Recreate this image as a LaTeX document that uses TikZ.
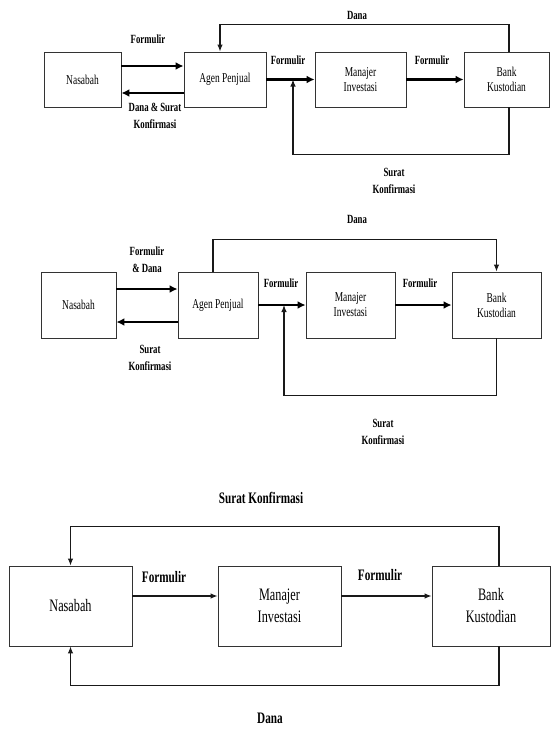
\documentclass[tikz,border=0pt]{standalone}
\usepackage{fontspec}
\setmainfont{Liberation Serif}[FakeStretch=0.7]
\usetikzlibrary{positioning,arrows.meta}

\begin{document}
\begin{tikzpicture}[
    x=1pt, y=-1pt,
    box/.style={
        rectangle,
        draw=black!80,
        line width=0.9pt,
        inner sep=2pt,
        align=center,
        font=\fontsize{13.5}{15}\selectfont
    },
    bigbox/.style={
        box,
        font=\fontsize{17.5}{22}\selectfont
    },
    lbl/.style={
        align=center,
        inner sep=0pt,
        font=\fontsize{12.5}{17}\selectfont\bfseries
    },
    biglbl/.style={
        lbl,
        font=\fontsize{16}{19}\selectfont\bfseries
    },
    heavy/.style={
        -{Latex[length=8pt,width=8pt]},
        line width=2.6pt,
        draw=black
    },
    flow/.style={
        -{Latex[length=7pt,width=5.5pt]},
        line width=1.1pt,
        draw=black!90
    }
]

% Page size
\useasboundingbox (0,0) rectangle (551,729);

% ---------------- Diagram 1 ----------------
\node[box, minimum width=77pt, minimum height=55pt] (nas1) at (82.5,79.5) {Nasabah};
\node[box, minimum width=82pt, minimum height=55pt] (agen1) at (225,79.5) {Agen Penjual};
\node[box, minimum width=91pt, minimum height=55pt] (man1) at (360.5,79.5) {Manajer\\Investasi};
\node[box, minimum width=85pt, minimum height=55pt] (bank1) at (506.5,79.5) {Bank\\Kustodian};

\draw[heavy] (nas1.east |- 0,66) -- (agen1.west |- 0,66);
\draw[heavy] (agen1.west |- 0,93) -- (nas1.east |- 0,93);
\draw[heavy] (agen1) -- (man1);
\draw[heavy] (man1) -- (bank1);

% Dana back to the agent, Surat Konfirmasi back into the Formulir line
\coordinate (join1) at (293,79.5);
\draw[flow] ([xshift=2.5pt]bank1.north) -- ++(0,-27) -| ([xshift=-5pt]agen1.north);
\draw[flow] ([xshift=2.5pt]bank1.south) -- ++(0,47) -| (join1);

\node[lbl] (f1a) at (148,39) {Formulir};
\node[lbl] (d1a) at (155,116) {Dana \& Surat\\Konfirmasi};
\node[lbl] (d1b) at (357,15) {Dana};
\node[lbl] (f1b) at (288,60) {Formulir};
\node[lbl] (f1c) at (432,60) {Formulir};
\node[lbl] (s1a) at (394,181) {Surat\\Konfirmasi};

% ---------------- Diagram 2 ----------------
\node[box, minimum width=75pt, minimum height=66pt] (nas2) at (78.5,305) {Nasabah};
\node[box, minimum width=80pt, minimum height=66pt] (agen2) at (218,305) {Agen Penjual};
\node[box, minimum width=89pt, minimum height=66pt] (man2) at (350.5,305) {Manajer\\Investasi};
\node[box, minimum width=89pt, minimum height=66pt] (bank2) at (496.5,305) {Bank\\Kustodian};

\draw[heavy] (nas2.east |- 0,289) -- (agen2.west |- 0,289);
\draw[heavy] (agen2.west |- 0,322) -- (nas2.east |- 0,322);
\draw[heavy] (agen2) -- (man2);
\draw[heavy] (man2) -- (bank2);

% Dana goes straight to the custodian bank
\coordinate (join2) at (284,305);
\draw[flow] ([xshift=-5pt]agen2.north) -- ++(0,-32) -| (bank2.north);
\draw[flow] (bank2.south) -- ++(0,57) -| (join2);

\node[lbl] (f2a) at (147,260) {Formulir\\\& Dana};
\node[lbl] (s2a) at (150,358) {Surat\\Konfirmasi};
\node[lbl] (d2a) at (357,219) {Dana};
\node[lbl] (f2b) at (281,283) {Formulir};
\node[lbl] (f2c) at (420,283) {Formulir};
\node[lbl] (s2b) at (383,432) {Surat\\Konfirmasi};

% ---------------- Diagram 3 ----------------
\node[bigbox, minimum width=123pt, minimum height=80pt] (nas3) at (70.5,606) {Nasabah};
\node[bigbox, minimum width=123pt, minimum height=80pt] (man3) at (279.5,606) {Manajer\\Investasi};
\node[bigbox, minimum width=118pt, minimum height=80pt] (bank3) at (491,606) {Bank\\Kustodian};

\draw[flow] (nas3.east |- 0,596) -- (man3.west |- 0,596);
\draw[flow] (man3.east |- 0,596) -- (bank3.west |- 0,596);

% Surat Konfirmasi over the top, Dana underneath
\draw[flow] ([xshift=8pt]bank3.north) -- ++(0,-39) -| (nas3.north);
\draw[flow] ([xshift=8pt]bank3.south) -- ++(0,39) -| (nas3.south);

\node[biglbl] (s3a) at (261,498) {Surat Konfirmasi};
\node[biglbl] (f3a) at (164,577) {Formulir};
\node[biglbl] (f3b) at (380,575) {Formulir};
\node[biglbl] (d3a) at (270,718) {Dana};

\end{tikzpicture}
\end{document}
